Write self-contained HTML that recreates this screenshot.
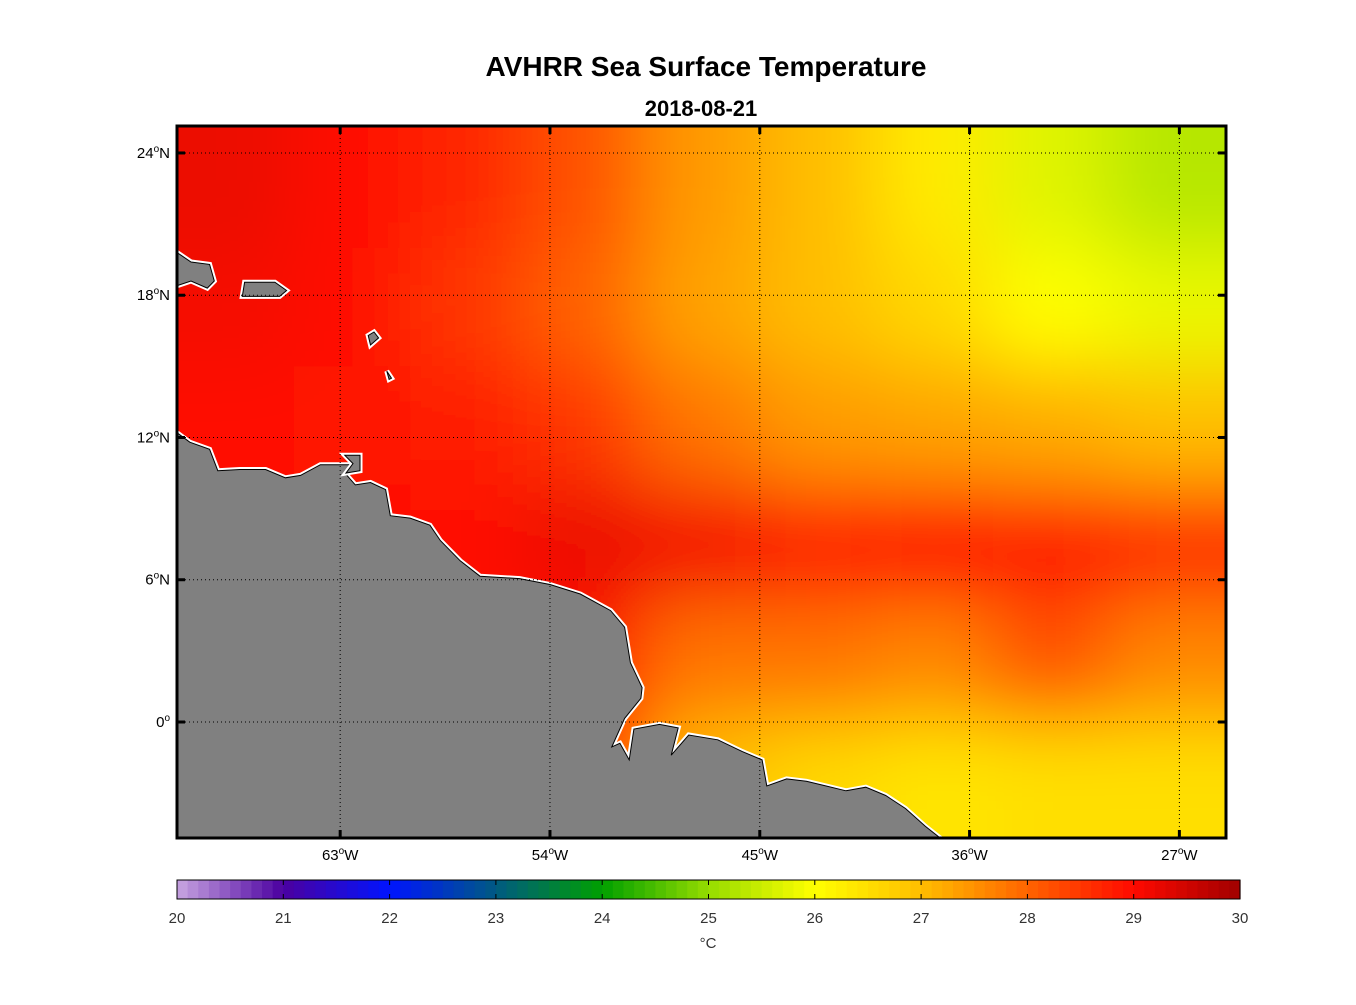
<!DOCTYPE html>
<html><head><meta charset="utf-8"><style>
body{margin:0;background:#fff;}
text{font-family:"Liberation Sans",sans-serif;}
</style></head><body>
<svg id="c" width="1356" height="1000" xmlns="http://www.w3.org/2000/svg">
<defs>
<clipPath id="fc"><rect x="177" y="126" width="1049" height="712"/></clipPath>
<filter id="bl" x="-50%" y="-50%" width="200%" height="200%"><feGaussianBlur stdDeviation="38"/></filter>
</defs>
<text x="706" y="76" text-anchor="middle" font-size="28" font-weight="bold">AVHRR Sea Surface Temperature</text>
<text x="701" y="116" text-anchor="middle" font-size="22" font-weight="bold">2018-08-21</text>
<g id="field" clip-path="url(#fc)"></g>
<g id="land" clip-path="url(#fc)"></g>
<g id="grid"></g>
<rect x="177" y="126" width="1049" height="712" fill="none" stroke="#000" stroke-width="3"/>
<g id="cbar"></g>
<text x="708" y="948" text-anchor="middle" font-size="15" fill="#333">°C</text>
</svg>
<script>
const lonCenters=[-67.5,-62.5,-57.5,-52.5,-47.5,-42.5,-37.5,-32.5,-27.5];
const latCenters=[22.5,17.5,12.5,7.5,2.5,-2.5];
const sstRow0=[29.2,29.0,28.7,28.2,27.4,27.0,26.3,25.7,25.3];
const sstRow1=[29.1,29.0,28.5,28.0,27.3,27.0,26.6,26.0,25.8];
const sstRow2=[29.0,28.9,28.8,28.5,27.8,27.4,27.3,27.2,27.0];
const sstRow3=[28.9,29.0,29.0,29.2,29.1,28.8,29.0,28.9,28.6];
const sstRow4=[29.0,29.0,29.0,29.0,27.8,27.8,27.6,28.2,27.6];
const sstRow5=[29.0,29.0,29.0,28.8,27.0,26.6,26.4,26.5,26.5];
const sstRows=[sstRow0,sstRow1,sstRow2,sstRow3,sstRow4,sstRow5];
const lonTicks=[-63,-54,-45,-36,-27];
const lonLabels=["63","54","45","36","27"];
const latTicks=[24,18,12,6,0];
const latLabels=["24","18","12","6","0"];
const cbTicks=[20,21,22,23,24,25,26,27,28,29,30];
const coast=[[-70,12.2],[-69.45,11.8],[-68.6,11.5],[-68.25,10.6],[-67.3,10.65],[-66.2,10.65],[-65.35,10.3],[-64.7,10.4],[-63.85,10.85],[-62.35,10.85],[-62.8,10.5],[-62.35,10.0],[-61.7,10.1],[-61.05,9.8],[-60.85,8.7],[-60.0,8.6],[-59.15,8.3],[-58.7,7.65],[-57.85,6.8],[-57.0,6.15],[-55.3,6.05],[-54.0,5.8],[-52.7,5.4],[-51.4,4.7],[-50.8,4.0],[-50.55,2.5],[-50.05,1.45],[-50.1,1.0],[-50.8,0.15],[-51.35,-1.05],[-51.0,-0.9],[-50.6,-1.6],[-50.4,-0.3],[-49.3,-0.1],[-48.5,-0.25],[-48.8,-1.4],[-48.05,-0.55],[-46.8,-0.75],[-45.75,-1.25],[-44.9,-1.6],[-44.7,-2.7],[-43.85,-2.4],[-43.0,-2.5],[-42.15,-2.7],[-41.3,-2.9],[-40.45,-2.75],[-39.6,-3.1],[-38.75,-3.65],[-37.9,-4.4],[-37.25,-4.9],[-37.0,-5.5],[-71,-5.5],[-71,12.2]];
const isl1=[[-70,19.8],[-69.4,19.4],[-68.6,19.3],[-68.4,18.6],[-68.7,18.3],[-69.4,18.6],[-70,18.4]];
const isl2=[[-67.1,18.55],[-65.8,18.55],[-65.3,18.2],[-65.6,17.95],[-67.2,17.95]];
const isl3=[[-62.8,11.25],[-62.15,11.25],[-62.15,10.6],[-62.75,10.5],[-62.45,10.9]];
const isl4=[[-61.8,16.3],[-61.55,16.45],[-61.35,16.2],[-61.7,15.9]];
const isl5=[[-61.0,14.8],[-60.8,14.5],[-60.9,14.45]];
const X=lon=>177+(lon+70)*1049/45;
const Y=lat=>722-lat*23.71;
const NS="http://www.w3.org/2000/svg";
function mk(t,a,p){const e=document.createElementNS(NS,t);for(const k in a)e.setAttribute(k,a[k]);p.appendChild(e);return e;}
const stops=[[20,[200,165,225]],[21,[75,0,160]],[22,[0,20,255]],[23,[0,90,130]],[24,[0,160,0]],[25,[150,220,0]],[26,[255,255,0]],[27,[255,190,0]],[28,[255,100,0]],[29,[255,10,0]],[30,[160,0,0]]];
function cmap(v){v=Math.max(20,Math.min(30,v));for(let i=0;i<stops.length-1;i++){const a=stops[i],b=stops[i+1];if(v<=b[0]){const t=(v-a[0])/(b[0]-a[0]);const c=a[1].map((x,j)=>Math.round(x+(b[1][j]-x)*t));return `rgb(${c})`;}}return 'rgb(160,0,0)';}
const field=document.getElementById('field');
const bg=mk('rect',{x:177,y:126,width:1049,height:712,fill:cmap(28.2)},field);


const fg=mk('g',{filter:'url(#bl)'},field);
sstRows.forEach((row,r)=>row.forEach((v,c)=>{
 let x0=X(lonCenters[c]-2.5),x1=X(lonCenters[c]+2.5),y0=Y(latCenters[r]+2.5),y1=Y(latCenters[r]-2.5);
 if(c===0)x0-=150; if(c===row.length-1)x1+=150; if(r===0)y0-=150; if(r===sstRows.length-1)y1+=150;
 const e=mk('rect',{x:x0,y:y0,width:x1-x0,height:y1-y0,fill:cmap(v)},fg);
 
 
}));
const land=document.getElementById('land');
function poly(pts,name){const d=pts.map(p=>X(p[0]).toFixed(1)+','+Y(p[1]).toFixed(1)).join(' ');
 const w=mk('polygon',{points:d,fill:'#fff',stroke:'#fff','stroke-width':5,'stroke-linejoin':'miter'},land);
 
 
 const e=mk('polygon',{points:d,fill:'#808080',stroke:'#000','stroke-width':1},land);
 
 }
poly(coast,'south-america');poly(isl1,'hispaniola');poly(isl2,'puerto-rico');poly(isl3,'trinidad');poly(isl4,'guadeloupe');poly(isl5,'martinique');
const grid=document.getElementById('grid');
lonTicks.forEach((lon,i)=>{const x=X(lon);
 const l=mk('line',{x1:x,x2:x,y1:126,y2:838,stroke:'#000','stroke-width':1,'stroke-dasharray':'1,3'},grid);
 
 
 mk('line',{x1:x,x2:x,y1:126,y2:134,stroke:'#000','stroke-width':3},grid);
 mk('line',{x1:x,x2:x,y1:830,y2:838,stroke:'#000','stroke-width':3},grid);
 const t=mk('text',{x:x,y:860,'text-anchor':'middle','font-size':15},grid);
 t.innerHTML=lonLabels[i]+'<tspan dy="-6" font-size="10">o</tspan><tspan dy="6">W</tspan>';
 
 });
latTicks.forEach((lat,i)=>{const y=Y(lat);
 const l=mk('line',{x1:177,x2:1226,y1:y,y2:y,stroke:'#000','stroke-width':1,'stroke-dasharray':'1,3'},grid);
 
 
 mk('line',{x1:177,x2:185,y1:y,y2:y,stroke:'#000','stroke-width':3},grid);
 mk('line',{x1:1218,x2:1226,y1:y,y2:y,stroke:'#000','stroke-width':3},grid);
 const t=mk('text',{x:170,y:y+5,'text-anchor':'end','font-size':15},grid);
 t.innerHTML=latLabels[i]+'<tspan dy="-6" font-size="10">o</tspan>'+(lat===0?'':'<tspan dy="6">N</tspan>');
 
 });
const cb=document.getElementById('cbar');
const cx=v=>177+(v-20)*(1240-177)/10;
for(let i=0;i<100;i++){const v=20+i*0.1;
 const r=mk('rect',{x:cx(v),y:880,width:(1063/100)+0.6,height:19,fill:cmap(v+0.05)},cb);
 
 }
mk('rect',{x:177,y:880,width:1063,height:19,fill:'none',stroke:'#000','stroke-width':1},cb);
cbTicks.forEach(v=>{const x=cx(v);
 mk('line',{x1:x,x2:x,y1:880,y2:885,stroke:'#000','stroke-width':1},cb);
 mk('line',{x1:x,x2:x,y1:894,y2:899,stroke:'#000','stroke-width':1},cb);
 const t=mk('text',{x:x,y:923,'text-anchor':'middle','font-size':15,fill:'#333'},cb);
 t.textContent=v;
 
 });
</script>
</body></html>
